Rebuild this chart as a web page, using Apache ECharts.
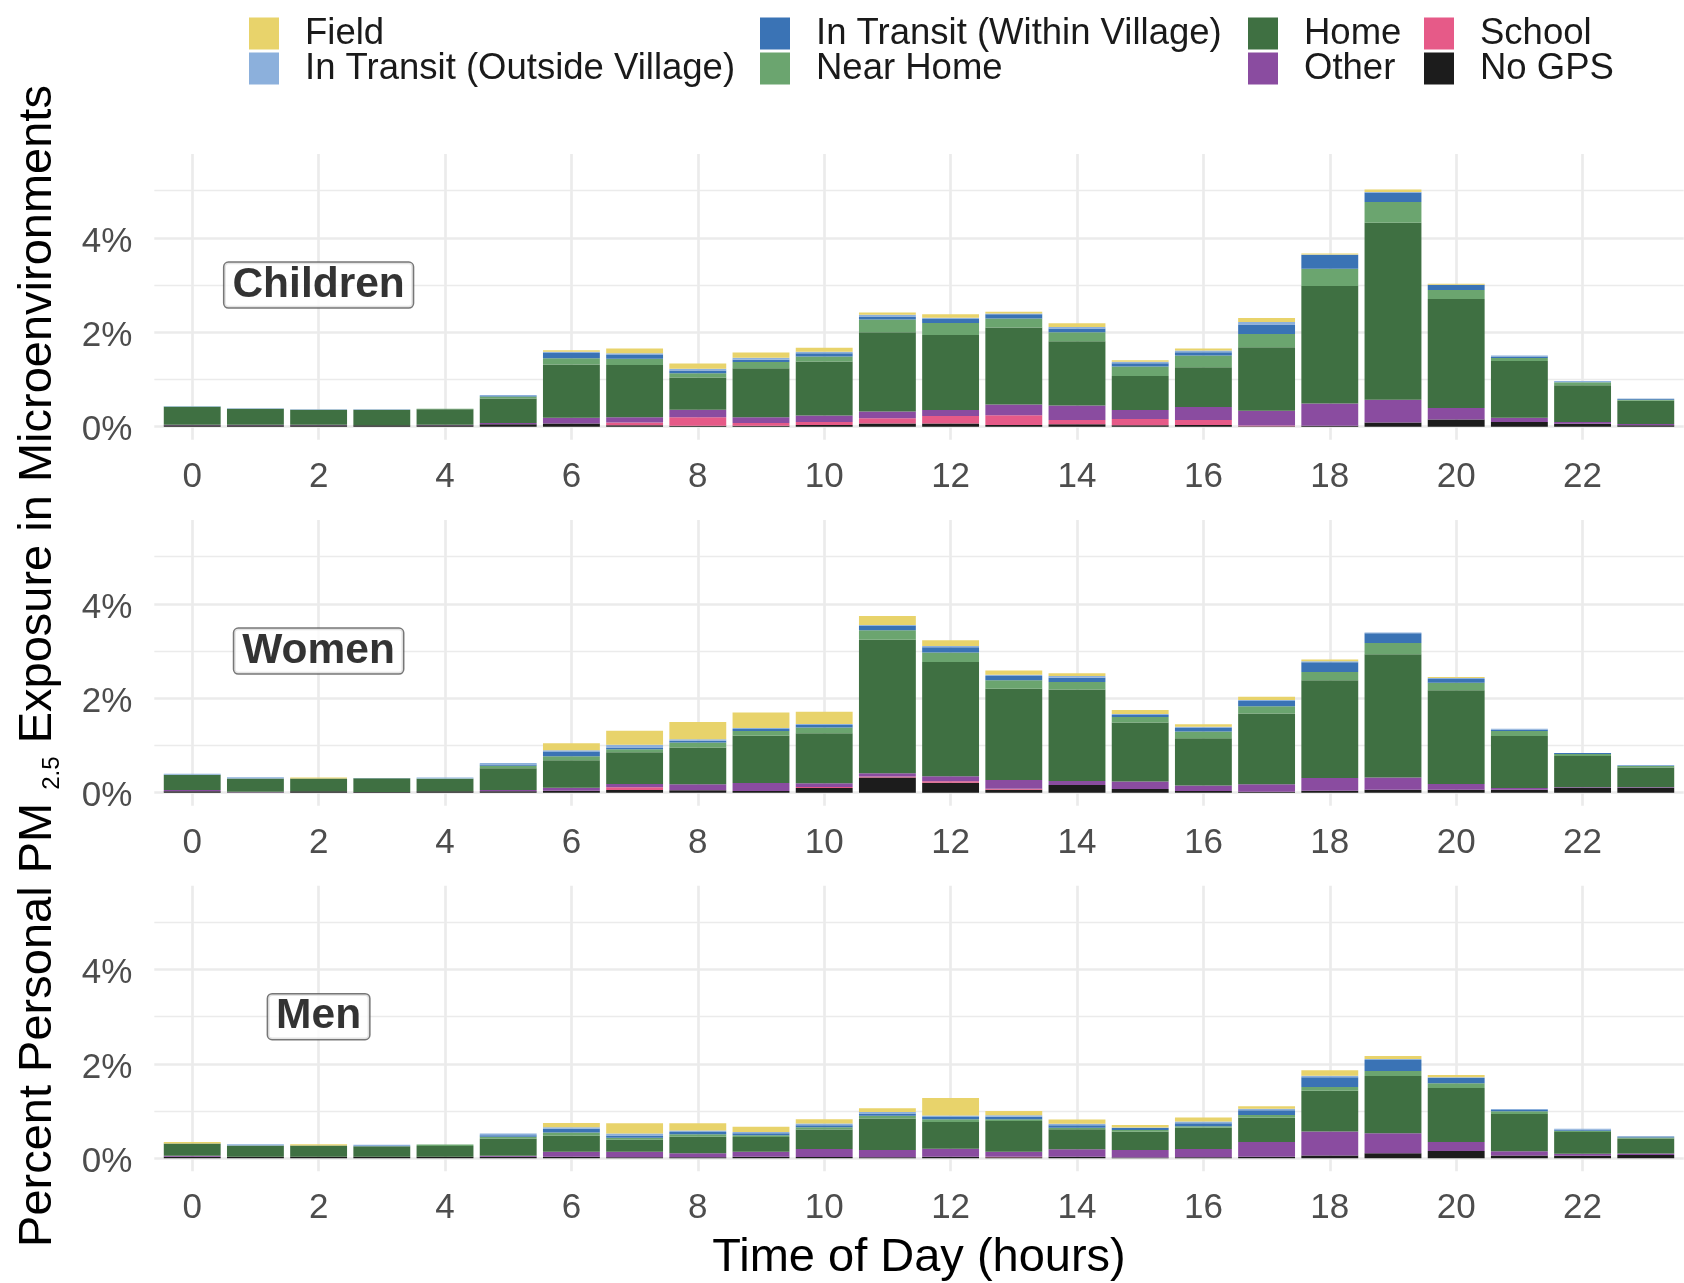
<!DOCTYPE html>
<html>
<head>
<meta charset="utf-8">
<script src="https://cdn.jsdelivr.net/npm/echarts@6/dist/echarts.min.js"></script>
<style>
  html, body { margin: 0; padding: 0; background: #ffffff; }
  #chart { width: 1684px; height: 1283px; }
</style>
</head>
<body>
<div id="chart"></div>
<script>
// Hour of day (0–23) shown on the x axis
const hours = [0,1,2,3,4,5,6,7,8,9,10,11,12,13,14,15,16,17,18,19,20,21,22,23];
const hourTicks = [0,2,4,6,8,10,12,14,16,18,20,22];
const pctTicksMajor = [0,2,4];
const pctTicksMinor = [1,3,5];

const groups = ['Children', 'Women', 'Men'];

// Microenvironments, bottom of the stack first
const envs = ['No GPS', 'School', 'Other', 'Home', 'Near Home',
              'In Transit (Within Village)', 'In Transit (Outside Village)', 'Field'];

// Percent of personal PM2.5 exposure by hour — Children
const childrenNoGps  = [0.03,0.03,0.03,0.03,0.03,0.05,0.07,0.03,0.02,0.02,0.035,0.07,0.07,0.035,0.05,0.03,0.035,0.01,0.02,0.09,0.155,0.1,0.065,0.03];
const childrenSchool = [0,0,0,0,0,0,0,0.06,0.18,0.06,0.065,0.11,0.155,0.21,0.09,0.135,0.105,0.015,0,0,0,0,0,0];
const childrenOther  = [0.01,0.01,0.01,0,0.01,0.03,0.12,0.11,0.16,0.12,0.14,0.14,0.13,0.225,0.31,0.19,0.28,0.315,0.47,0.48,0.24,0.09,0.035,0.03];
const childrenHome   = [0.38,0.34,0.32,0.33,0.33,0.52,1.13,1.11,0.68,1.04,1.14,1.68,1.59,1.63,1.36,0.72,0.84,1.345,2.49,3.75,2.31,1.2,0.78,0.49];
const childrenNear   = [0.01,0,0,0,0.01,0.04,0.13,0.13,0.09,0.13,0.11,0.27,0.25,0.19,0.19,0.2,0.25,0.28,0.365,0.44,0.19,0.065,0.06,0.02];
const childrenWithin = [0,0,0,0,0,0.01,0.11,0.08,0.06,0.05,0.065,0.065,0.085,0.09,0.08,0.07,0.065,0.2,0.295,0.2,0.11,0.035,0,0.025];
const childrenOutside= [0.01,0.01,0.01,0.01,0,0.02,0.03,0.035,0.04,0.04,0.035,0.035,0.03,0.02,0.03,0.03,0.04,0.055,0.01,0.01,0.005,0.02,0.03,0];
const childrenField  = [0,0,0,0,0,0,0.03,0.10,0.11,0.11,0.085,0.05,0.07,0.035,0.08,0.035,0.04,0.085,0.02,0.055,0.02,0,0,0];

// Women
const womenNoGps  = [0.03,0.01,0.03,0.015,0.03,0.03,0.04,0.06,0.05,0.035,0.10,0.325,0.21,0.065,0.165,0.08,0.035,0.02,0.04,0.065,0.065,0.065,0.1,0.1];
const womenSchool = [0,0,0,0,0,0,0,0.055,0,0,0.02,0.02,0.035,0.02,0,0,0,0,0,0,0,0,0,0];
const womenOther  = [0.03,0.01,0,0,0,0.03,0.065,0.07,0.13,0.17,0.08,0.065,0.105,0.185,0.085,0.155,0.12,0.16,0.27,0.26,0.12,0.035,0.015,0.015];
const womenHome   = [0.32,0.28,0.27,0.29,0.26,0.46,0.585,0.67,0.78,1.0,1.06,2.83,2.42,1.93,1.935,1.255,1.0,1.5,2.075,2.61,1.985,1.1,0.665,0.42];
const womenNear   = [0,0,0,0,0.01,0.05,0.085,0.065,0.105,0.105,0.12,0.2,0.2,0.18,0.16,0.115,0.14,0.15,0.17,0.235,0.16,0.105,0.04,0.03];
const womenWithin = [0,0,0,0,0,0.03,0.085,0.04,0.035,0.04,0.055,0.1,0.11,0.09,0.09,0.04,0.085,0.115,0.21,0.21,0.08,0.03,0.02,0];
const womenOutside= [0.02,0.03,0,0.005,0.02,0.03,0.04,0.055,0.03,0.02,0.02,0.015,0.03,0.03,0.04,0.02,0.02,0.02,0.02,0.015,0.02,0.02,0,0.02];
const womenField  = [0,0,0.02,0,0,0,0.15,0.30,0.37,0.33,0.26,0.19,0.12,0.09,0.055,0.085,0.05,0.07,0.035,0,0.02,0,0,0];

// Men
const menNoGps  = [0.035,0.035,0.035,0.035,0.035,0.035,0.035,0.02,0.02,0.035,0.03,0.02,0.035,0.02,0.035,0.015,0.02,0.035,0.06,0.105,0.155,0.06,0.055,0.07];
const menSchool = [0,0,0,0,0,0,0,0,0,0,0,0,0,0.015,0,0,0,0,0,0,0,0,0,0];
const menOther  = [0.02,0,0,0,0,0.02,0.105,0.12,0.09,0.105,0.17,0.155,0.17,0.105,0.155,0.16,0.175,0.31,0.51,0.425,0.19,0.09,0.04,0.03];
const menHome   = [0.26,0.235,0.235,0.22,0.225,0.36,0.34,0.255,0.345,0.31,0.41,0.67,0.565,0.65,0.425,0.39,0.45,0.515,0.86,1.215,1.145,0.79,0.46,0.32];
const menNear   = [0,0,0,0,0.035,0.04,0.065,0.04,0.055,0.04,0.05,0.055,0.055,0.04,0.035,0.035,0.035,0.055,0.08,0.105,0.1,0.055,0.03,0.02];
const menWithin = [0,0,0,0,0,0.035,0.08,0.05,0.05,0.04,0.04,0.05,0.05,0.05,0.05,0.04,0.065,0.105,0.205,0.235,0.11,0.03,0.02,0.02];
const menOutside= [0,0.03,0,0.03,0,0.035,0.035,0.04,0.03,0.03,0.04,0.03,0.03,0.03,0.03,0.015,0.035,0.03,0.035,0.02,0.015,0.02,0.02,0];
const menField  = [0.03,0,0.03,0,0,0,0.09,0.22,0.155,0.11,0.085,0.08,0.375,0.09,0.09,0.05,0.085,0.055,0.115,0.065,0.05,0,0,0];

const groupData = [
  [childrenNoGps, childrenSchool, childrenOther, childrenHome, childrenNear, childrenWithin, childrenOutside, childrenField],
  [womenNoGps, womenSchool, womenOther, womenHome, womenNear, womenWithin, womenOutside, womenField],
  [menNoGps, menSchool, menOther, menHome, menNear, menWithin, menOutside, menField]
];

// Panel label anchor (hour, percent)
const labelHour = 2;
const labelPct = 3;

// ---- styling ----
const envColors = {
  'No GPS': '#1c1c1c',
  'School': '#e65a88',
  'Other': '#8a4ca0',
  'Home': '#3f7042',
  'Near Home': '#6ba56f',
  'In Transit (Within Village)': '#3a73b5',
  'In Transit (Outside Village)': '#8cb0dc',
  'Field': '#e8d36b'
};

const FONT = '"Liberation Sans", Arial, Helvetica, sans-serif';
const GRID_COLOR = '#ebebeb';
const TICK_COLOR = '#4d4d4d';

// Panel area spans hours -0.6 .. 23.6 and percent -0.275 .. 5.775
const PANEL_LEFT = 154.3;
const PANEL_WIDTH = 1529.4;
const PANEL_HEIGHT = 285.6;
const PANEL_TOPS = [154.1, 520.1, 885.7];
const X_MIN = -0.6, X_MAX = 23.6;
const Y_MIN = -0.275, Y_MAX = 5.775;
// Bars live on a category axis whose bands cover hours -0.5 .. 23.5
const UNIT = PANEL_WIDTH / (X_MAX - X_MIN);
const BAR_LEFT = PANEL_LEFT + (-0.5 - X_MIN) * UNIT;
const BAR_WIDTH_TOTAL = hours.length * UNIT;

const grids = [], xAxes = [], yAxes = [], series = [];

groups.forEach((g, gi) => {
  const panelGrid = gi * 2;
  const barGrid = gi * 2 + 1;

  // panel frame: gridlines and tick labels
  grids.push({ left: PANEL_LEFT, top: PANEL_TOPS[gi], width: PANEL_WIDTH, height: PANEL_HEIGHT });
  // bar area
  grids.push({ left: BAR_LEFT, top: PANEL_TOPS[gi], width: BAR_WIDTH_TOTAL, height: PANEL_HEIGHT });

  xAxes.push({
    type: 'value', gridIndex: panelGrid, min: X_MIN, max: X_MAX,
    axisLine: { show: false },
    axisTick: { show: false, customValues: hourTicks },
    axisLabel: { customValues: hourTicks, fontSize: 35, color: TICK_COLOR, fontFamily: FONT, margin: 20,
                 formatter: v => String(v) },
    splitLine: { show: true, lineStyle: { color: GRID_COLOR, width: 2.7 } }
  });
  xAxes.push({
    type: 'category', gridIndex: barGrid, data: hours, boundaryGap: true,
    axisLine: { show: false }, axisTick: { show: false }, axisLabel: { show: false },
    splitLine: { show: false }
  });

  // major percent lines with labels
  yAxes.push({
    type: 'value', gridIndex: panelGrid, min: Y_MIN, max: Y_MAX,
    axisLine: { show: false },
    axisTick: { show: false, customValues: pctTicksMajor },
    axisLabel: { customValues: pctTicksMajor, fontSize: 35, color: TICK_COLOR, fontFamily: FONT, margin: 22,
                 verticalAlign: 'top', lineHeight: 8, formatter: v => v + '%' },
    splitLine: { show: true, lineStyle: { color: GRID_COLOR, width: 2.7 } }
  });
  // minor percent lines
  yAxes.push({
    type: 'value', gridIndex: panelGrid, min: Y_MIN, max: Y_MAX,
    axisLine: { show: false },
    axisTick: { show: false, customValues: pctTicksMinor },
    axisLabel: { show: false, customValues: pctTicksMinor },
    splitLine: { show: true, lineStyle: { color: GRID_COLOR, width: 1.4 } }
  });
  // value axis for the bars
  yAxes.push({
    type: 'value', gridIndex: barGrid, min: Y_MIN, max: Y_MAX,
    axisLine: { show: false }, axisTick: { show: false }, axisLabel: { show: false },
    splitLine: { show: false }
  });
  const barY = yAxes.length - 1;
  const barX = xAxes.length - 1;

  envs.forEach((env, ei) => {
    series.push({
      type: 'bar', name: env, xAxisIndex: barX, yAxisIndex: barY,
      stack: 'panel' + gi, barWidth: '90%',
      itemStyle: { color: envColors[env] },
      emphasis: { disabled: true },
      data: groupData[gi][ei]
    });
  });

  series.push({
    type: 'scatter', xAxisIndex: barX, yAxisIndex: barY, z: 5, silent: true,
    symbolSize: 1, itemStyle: { color: 'rgba(0,0,0,0)' },
    data: [[labelHour, labelPct]],
    label: {
      show: true, position: 'inside', formatter: g,
      fontFamily: FONT, fontWeight: 'bold', fontSize: 42.5, color: '#000000',
      backgroundColor: '#ffffff', borderColor: '#555555', borderWidth: 1.5, borderRadius: 4,
      padding: [3, 8, 1.5, 8], lineHeight: 40
    }
  });
});

// legend columns (column-major, matching the stack from top to bottom)
const legendCols = [
  { left: 249, names: ['Field', 'In Transit (Outside Village)'] },
  { left: 760, names: ['In Transit (Within Village)', 'Near Home'] },
  { left: 1248, names: ['Home', 'Other'] },
  { left: 1424, names: ['School', 'No GPS'] }
];
const legends = legendCols.map(c => ({
  left: c.left, top: 15, orient: 'vertical', padding: 0,
  itemWidth: 30, itemHeight: 32, itemGap: -2, icon: 'rect', selectedMode: false,
  data: c.names,
  textStyle: { fontSize: 36.5, color: '#1a1a1a', fontFamily: FONT, padding: [0, 0, 0, 21] }
}));

const option = {
  backgroundColor: '#ffffff',
  animation: false,
  grid: grids,
  xAxis: xAxes,
  yAxis: yAxes,
  legend: legends,
  series: series,
  graphic: [
    {
      type: 'text', x: 38, y: 666, rotation: Math.PI / 2,
      style: {
        text: '{m|Percent Personal PM }{s|2.5}{m| Exposure in Microenvironments}',
        align: 'center', verticalAlign: 'middle', fill: '#000',
        rich: {
          m: { fontSize: 47, fontFamily: FONT, lineHeight: 52, fill: '#000' },
          s: { fontSize: 24, fontFamily: FONT, lineHeight: 24, verticalAlign: 'bottom', fill: '#000' }
        }
      }
    },
    {
      type: 'text', x: 919, y: 1258,
      style: {
        text: 'Time of Day (hours)', fontSize: 47, fontFamily: FONT, fill: '#000',
        align: 'center', verticalAlign: 'middle'
      }
    }
  ]
};

const chart = echarts.init(document.getElementById('chart'), null, { renderer: 'canvas' });
chart.setOption(option);
</script>
</body>
</html>
